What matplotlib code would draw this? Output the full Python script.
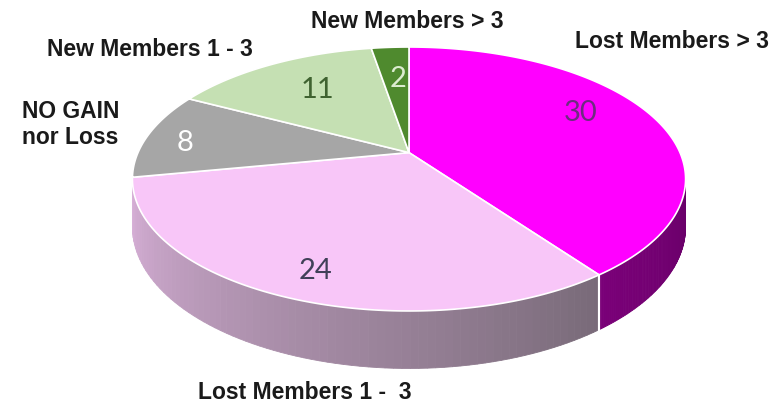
import numpy as np
import matplotlib
matplotlib.use("Agg")
import matplotlib.pyplot as plt
from matplotlib.patches import Polygon
from matplotlib.colors import to_rgb

# ---- data ----
categories = ["Lost Members > 3", "Lost Members 1 -  3", "NO GAIN\nnor Loss",
              "New Members 1 - 3", "New Members > 3"]
values = [30, 24, 8, 11, 2]
top_colors = ["#ff00ff", "#f8c6f8", "#a6a6a6", "#c5e0b3", "#4f8a2e"]
side_colors_left = ["#7a0078", "#d8b0d8", "#808080", "#a0b890", "#3e6a24"]
side_colors_right = ["#680068", "#786a78", "#707070", "#90a880", "#345a1e"]
value_colors = ["#6e2c80", "#404058", "#ffffff", "#3f6230", "#dcecd0"]

# ---- geometry of the projected pie (pixel space) ----
W, H = 781, 410
cx, cy0 = 409.0, 153.6
A, B, K = 271.0, 126.7, 0.2
D = 46.0
# value label placement (angle on pie in degrees, relative radius)
val_label_pos = [(63.0, 0.76), (200.5, 0.835), (275.8, 0.845), (326.0, 0.674), (356.0, 0.67)]


def proj(theta_deg, r=1.0):
    t = np.radians(theta_deg)
    u, v = r * np.sin(t), r * np.cos(t)
    den = 1 + K * v
    return cx + A * u / den, cy0 - B * v / den


def depth(theta_deg):
    v = np.cos(np.radians(theta_deg))
    return D / (1 + K * v)


fig = plt.figure(figsize=(W / 100, H / 100), dpi=100)
ax = fig.add_axes([0, 0, 1, 1])
ax.set_xlim(0, W)
ax.set_ylim(H, 0)
ax.axis("off")

total = sum(values)
starts = np.cumsum([0] + values[:-1]) / total * 360
ends = np.cumsum(values) / total * 360

vis_lo = np.degrees(np.arccos(-K))
vis_hi = 360 - vis_lo

# sides
for i, (s, e) in enumerate(zip(starts, ends)):
    lo, hi = max(s, vis_lo), min(e, vis_hi)
    if hi <= lo:
        continue
    n = 80
    ts = np.linspace(lo, hi, n + 1)
    cR = np.array(to_rgb(side_colors_right[i]))
    cL = np.array(to_rgb(side_colors_left[i]))
    for j in range(n):
        t0, t1 = ts[j], ts[j + 1]
        x0, y0 = proj(t0)
        x1, y1 = proj(t1)
        f = (j + 0.5) / n
        col = cR * (1 - f) + cL * f
        poly = Polygon([(x0, y0), (x1, y1), (x1, y1 + depth(t1)), (x0, y0 + depth(t0))],
                       closed=True, facecolor=col, edgecolor=col, lw=0.6)
        ax.add_patch(poly)
    for t in (s, e):
        if vis_lo < t < vis_hi:
            x, y = proj(t)
            ax.plot([x, x], [y, y + depth(t)], color="white", lw=1.5)

# tops
for i, (s, e) in enumerate(zip(starts, ends)):
    ts = np.linspace(s, e, 200)
    pts = [(cx, cy0)] + [proj(t) for t in ts]
    ax.add_patch(Polygon(pts, closed=True, facecolor=top_colors[i],
                         edgecolor="white", lw=1.2, joinstyle="round"))

# value labels
for i in range(len(values)):
    th, r = val_label_pos[i]
    x, y = proj(th, r)
    ax.text(x, y, str(values[i]), ha="center", va="center", fontsize=21,
            color=value_colors[i], family=["Lato", "DejaVu Sans"])

# category labels
lab_font = dict(fontsize=16.5, fontweight="bold", color="#1a1a1a",
                family=["Liberation Sans", "DejaVu Sans"])
ax.text(575, 42, categories[0], ha="left", va="center", **lab_font)
ax.text(198, 393, categories[1], ha="left", va="center", **lab_font)
ax.text(22, 100, categories[2], ha="left", va="top", linespacing=1.15, **lab_font)
ax.text(47, 50, categories[3], ha="left", va="center", **lab_font)
ax.text(407, 21, categories[4], ha="center", va="center", **lab_font)

fig.savefig("out.png", dpi=100)
